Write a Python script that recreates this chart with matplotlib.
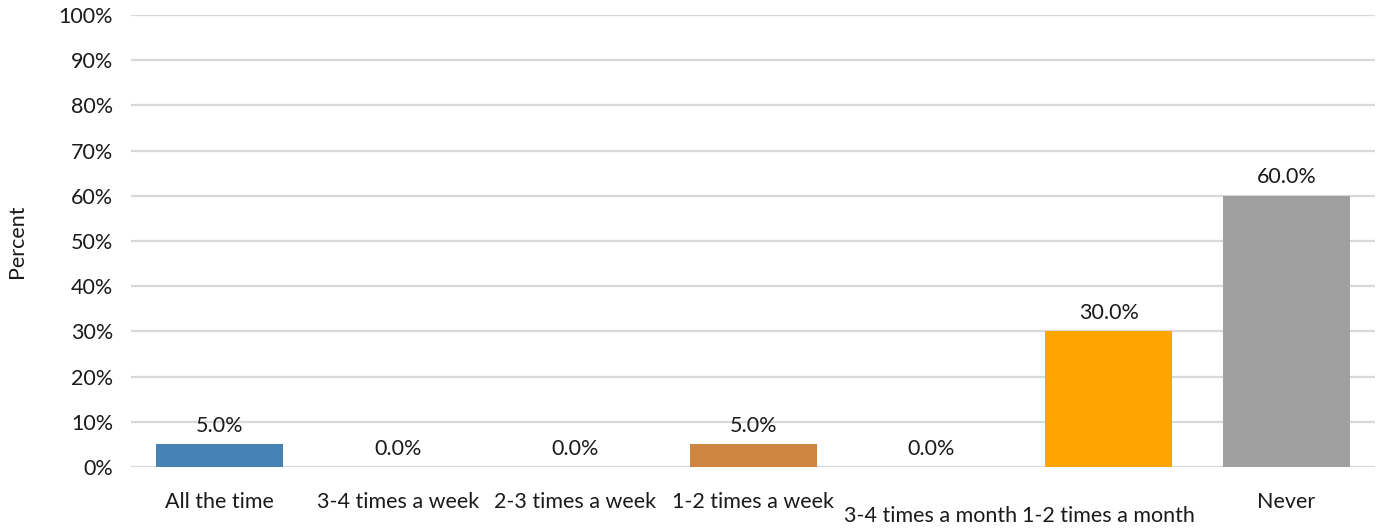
import matplotlib

matplotlib.use("Agg")
import matplotlib.pyplot as plt
from matplotlib.ticker import PercentFormatter

categories = ["All the time", "3-4 times a week", "2-3 times a week", "1-2 times a week",
              "3-4 times a month", "1-2 times a month", "Never"]
percent = [5.0, 0.0, 0.0, 5.0, 0.0, 30.0, 60.0]
bar_colors = ["#4682B4", "#4682B4", "#4682B4", "#CD853F", "#CD853F", "#FFA500", "#A0A0A0"]

plt.rcParams["font.family"] = ["Lato", "DejaVu Sans"]
FS = 15.5
TXT = "#1a1a1a"

fig = plt.figure(figsize=(13.84, 5.30), dpi=100)
ax = fig.add_axes([0.0947, 0.119, 0.899, 0.8527])

x = range(len(categories))
bars = ax.bar(x, percent, width=0.715, color=bar_colors, zorder=3)
for b, v in zip(bars, percent):
    ax.annotate(f"{v:.1f}%", (b.get_x() + b.get_width() / 2, v),
                textcoords="offset points", xytext=(0, 6), ha="center", va="bottom",
                fontsize=FS, color=TXT)

ax.set_xlim(-0.5, len(categories) - 0.5)
ax.set_ylim(0, 100)
ax.set_yticks(range(0, 101, 10))
ax.yaxis.set_major_formatter(PercentFormatter(decimals=0))
ax.set_xticks(list(x))
ax.set_xticklabels(categories)
ax.tick_params(axis="both", length=0, labelsize=FS, labelcolor=TXT)
ax.tick_params(axis="x", pad=18)
ax.tick_params(axis="y", pad=13)

# long month labels get pushed down so they don't collide
for i in (4, 5):
    ax.xaxis.get_major_ticks()[i].set_pad(28)

ax.grid(axis="y", color="#D9D9D9", linewidth=1.6, zorder=0)
for s in ax.spines.values():
    s.set_visible(False)

ax.set_ylabel("Percent", fontsize=FS, color=TXT)
ax.yaxis.set_label_coords(-0.084, 0.5)

fig.savefig("out.png", dpi=100)
